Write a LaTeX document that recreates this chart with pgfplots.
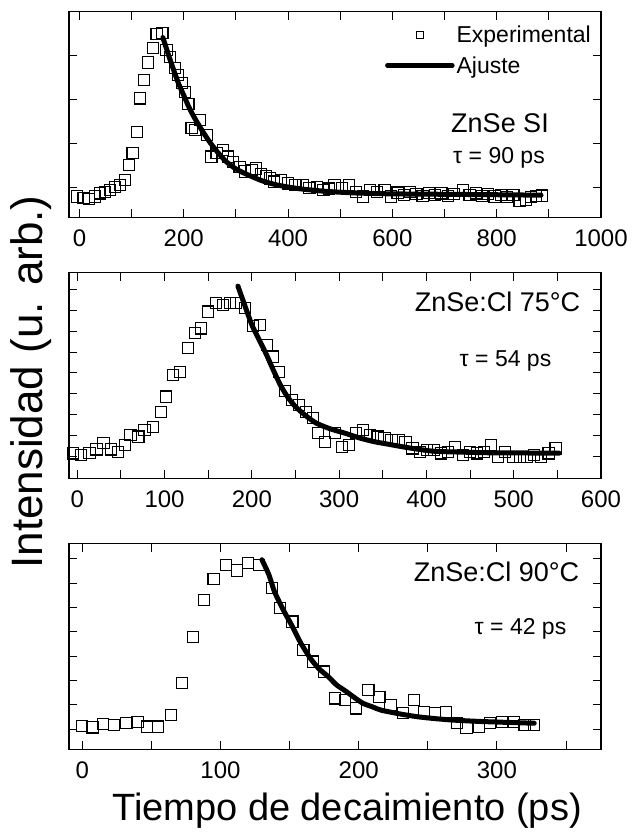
\documentclass[border=0pt]{standalone}
\usepackage{fontspec}
\setmainfont{Liberation Sans}
\usepackage{pgfplots}
\pgfplotsset{compat=1.18}
\pgfplotsset{
  panel/.style={
    scale only axis, width=532bp, height=205.6bp, anchor=south west,
    axis line style={line width=1.1bp},
    every tick/.style={black, line width=1bp},
    major tick length=8bp, minor tick length=8bp,
    tick align=inside,
    yticklabels={},
    scaled x ticks=false,
    tick label style={font=\fontsize{24bp}{28bp}\selectfont},
    xticklabel style={yshift=-9bp},
    /pgf/number format/assume math mode=true,
    /pgf/number format/1000 sep={},
  },
  exper/.style={only marks, mark=square, mark size=5.6bp, mark options={line width=1.1bp, black, solid}},
  fitl/.style={black, line width=5bp, line join=round, line cap=round, smooth, tension=0.4},
  legexp/.style={legend image code/.code={\path[draw=none] (0bp,0bp) -- (65bp,0bp); \path[draw=none] plot[only marks, mark=square, mark size=3.6bp, mark options={draw=black, line width=1bp, solid}] coordinates {(32.5bp,0bp)};}},
  legfit/.style={legend image code/.code={\draw[black, line width=4.5bp] (0bp,0bp) -- (65bp,0bp);}},
}
\begin{document}
\begin{tikzpicture}
\useasboundingbox (0,0) rectangle (633bp,836bp);
% ---------------- top panel ----------------
\begin{axis}[panel, at={(69bp,618.7bp)},
  xmin=-20, xmax=1000, ymin=0.315, ymax=5.01,
  xtick={0,200,...,1000}, minor xtick={100,300,...,900},
  ytick={1,2,3,4},
  legend style={at={(axis description cs:0.985,0.94)}, anchor=north east,
    draw=none, fill=none, font=\fontsize{23bp}{26bp}\selectfont,
    inner sep=0pt, row sep=8bp,
    /tikz/every even column/.append style={column sep=2bp}},
  legend cell align=left]
\addplot[exper, legexp] coordinates {
(-4,0.79) (8,0.75) (19,0.73) (30,0.79) (40,0.86) (49,0.90) (59,0.94) (68,1.01) (78,1.05) (87,1.17)
(95,1.51) (102,1.78) (110,2.27) (116,3.03) (124,3.45) (132,3.85) (141,4.18) (148,4.50) (159,4.52)
(167,4.14) (173,3.98) (183,3.72) (189,3.57) (196,3.38) (202,3.18) (209,2.90) (215,2.35) (221,2.31)
(231,2.54) (244,2.19) (253,1.70) (263,1.78) (275,1.85) (285,1.70) (295,1.58) (307,1.47) (317,1.36)
(330,1.40) (339,1.43) (348,1.30) (358,1.25) (366,1.20) (373,1.13) (387,1.17) (400,1.09) (414,1.05)
(428,1.05) (441,0.98) (455,1.01) (468,0.94) (478,0.97) (489,1.05) (503,0.98) (517,1.05) (530,0.90)
(544,0.79) (557,0.94) (571,0.90) (585,0.94) (598,0.79) (610,0.88) (622,0.83) (634,0.90) (646,0.84)
(658,0.80) (670,0.87) (682,0.82) (694,0.86) (706,0.80) (718,0.85) (735,0.94) (748,0.82) (760,0.86)
(772,0.80) (784,0.84) (796,0.79) (808,0.83) (820,0.78) (832,0.82) (844,0.68) (856,0.71) (866,0.78)
(876,0.80) (887,0.81)
};
\addlegendentry{Experimental}
\addplot[fitl, legfit] coordinates {
(160,4.42) (170,4.05) (180,3.70) (190,3.37) (200,3.10) (210,2.83) (220,2.60) (235,2.30) (250,2.03)
(265,1.80) (282,1.58) (300,1.42) (320,1.30) (350,1.15) (380,1.05) (420,0.97) (470,0.91) (530,0.87)
(600,0.85) (700,0.84) (800,0.83) (885,0.82)
};
\addlegendentry{Ajuste}
\end{axis}
% ---------------- middle panel ----------------
\begin{axis}[panel, at={(69bp,357.7bp)},
  xmin=-9.5, xmax=600, ymin=-0.03, ymax=9.79,
  xtick={0,100,...,600}, minor xtick={50,150,...,550},
  ytick={1,2,...,9}]
\addplot[exper] coordinates {
(-5,1.16) (4,1.08) (14,1.19) (22,1.35) (30,1.64) (39,1.35) (47,1.24) (55,1.56) (61,2.04) (70,1.96)
(77,2.28) (87,2.43) (96,3.15) (102,3.87) (110,4.90) (118,5.06) (127,6.18) (135,6.90) (142,7.13)
(150,7.93) (159,8.33) (167,8.25) (175,8.33) (182,8.33) (192,8.09) (201,7.25) (209,7.29) (217,6.34)
(224,5.78) (231,5.06) (238,4.15) (246,3.71) (254,3.47) (262,3.15) (270,2.85) (276,2.12) (284,1.72)
(295,2.12) (303,1.48) (311,1.56) (319,2.12) (327,2.28) (335,2.04) (344,1.96) (352,1.88) (360,1.80)
(368,1.80) (376,1.72) (384,1.40) (393,1.24) (401,1.32) (409,1.32) (417,1.16) (425,1.24) (433,1.48)
(442,1.08) (450,1.24) (458,1.16) (466,1.24) (474,1.56) (482,1.00) (490,1.24) (499,1.00) (507,1.00)
(515,1.00) (523,1.08) (531,1.00) (540,1.16) (548,1.40)
};
\addplot[fitl] coordinates {
(184,9.15) (190,8.45) (200,7.30) (210,6.45) (217,5.85) (225,5.10) (233,4.40) (241,3.85) (250,3.39)
(262,2.95) (274,2.60) (290,2.33) (307,2.12) (323,1.90) (340,1.72) (356,1.60) (372,1.48) (390,1.36)
(409,1.26) (440,1.22) (470,1.19) (510,1.18) (552,1.17)
};
\end{axis}
% ---------------- bottom panel ----------------
\begin{axis}[panel, at={(69bp,86.7bp)},
  xmin=-9.6, xmax=375.3, ymin=0.18, ymax=8.62,
  xtick={0,100,200,300}, minor xtick={50,150,250,350},
  ytick={1,2,...,8}]
\addplot[exper] coordinates {
(0,1.14) (7.5,1.08) (15,1.21) (23,1.18) (32,1.27) (40,1.31) (47,1.11) (55,1.11) (64,1.59) (72,2.89)
(80,4.78) (88,6.31) (95,7.17) (104,7.75) (112,7.52) (120,7.82) (128,7.75) (137.5,6.79) (143,5.97)
(152,5.42) (160,4.26) (167,3.78) (175,3.37) (183,2.27) (190,2.20) (198,1.86) (207,2.62) (215,2.34)
(223,2.00) (232,1.66) (240,2.20) (247,1.72) (255,1.66) (263,1.72) (271,1.25) (278,1.04) (287,1.11)
(295,1.25) (304,1.31) (312,1.31) (320,1.18) (327,1.18)
};
\addplot[fitl] coordinates {
(130,7.96) (135,7.35) (139,6.66) (145,5.95) (152,5.22) (158,4.55) (165,3.92) (171,3.50) (178,3.16)
(184,2.82) (191,2.55) (197,2.30) (203,2.07) (210,1.92) (216,1.79) (229,1.64) (242,1.52) (255,1.44)
(268,1.38) (281,1.34) (294,1.31) (310,1.28) (327,1.25)
};
\end{axis}
% ---------------- annotations ----------------
\node[anchor=base, font=\fontsize{27bp}{30bp}\selectfont] at (500bp,703.3bp) {ZnSe SI};
\node[anchor=base, font=\fontsize{23bp}{26bp}\selectfont] at (499bp,672.7bp) {τ = 90 ps};
\node[anchor=base, font=\fontsize{27bp}{30bp}\selectfont] at (497.5bp,524.3bp) {ZnSe:Cl 75°C};
\node[anchor=base, font=\fontsize{23bp}{26bp}\selectfont] at (505.5bp,469.3bp) {τ = 54 ps};
\node[anchor=base, font=\fontsize{27bp}{30bp}\selectfont] at (496.5bp,254.3bp) {ZnSe:Cl 90°C};
\node[anchor=base, font=\fontsize{23bp}{26bp}\selectfont] at (520.5bp,201bp) {τ = 42 ps};
\node[anchor=base, font=\fontsize{38bp}{42bp}\selectfont] at (347bp,16bp) {Tiempo de decaimiento (ps)};
\node[anchor=base, rotate=90, font=\fontsize{44bp}{48bp}\selectfont] at (42bp,454bp) {Intensidad (u. arb.)};
\end{tikzpicture}
\end{document}
